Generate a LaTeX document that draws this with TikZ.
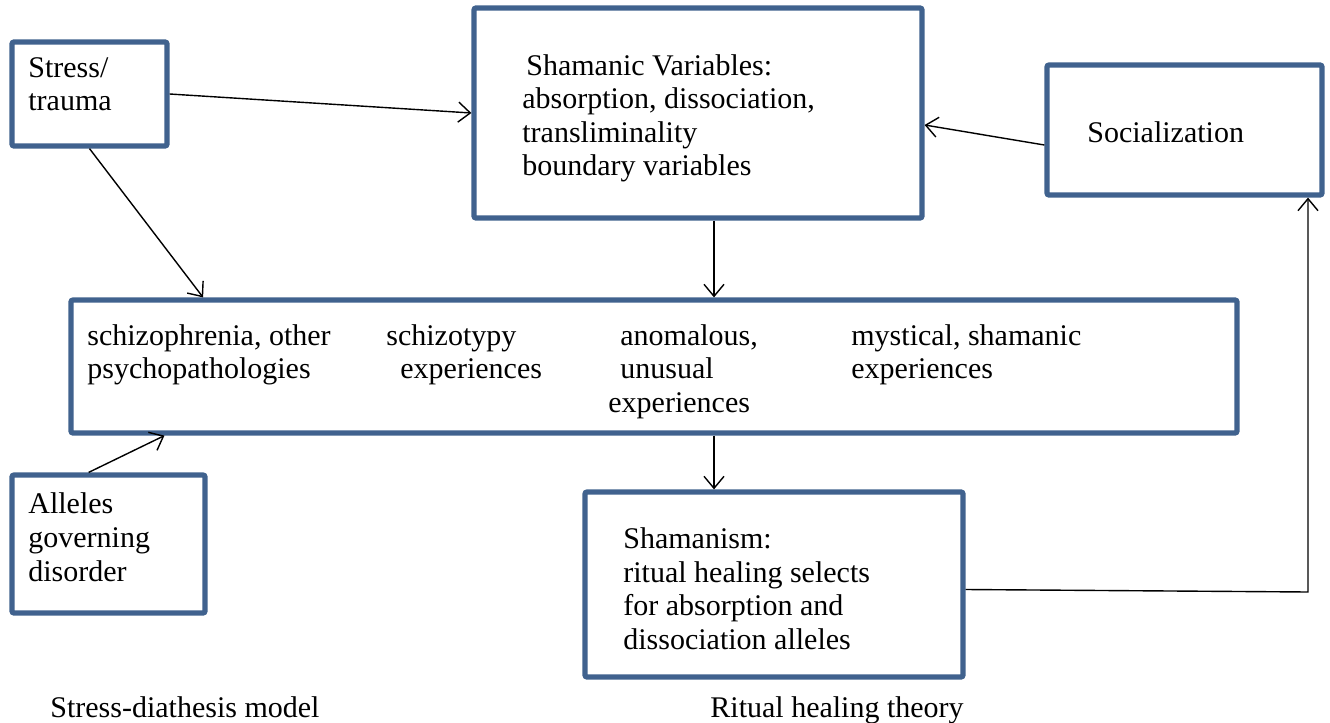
\documentclass[tikz,border=0pt]{standalone}
\usepackage{fontspec}
\setmainfont{Liberation Serif}
\usetikzlibrary{arrows.meta,calc}
\definecolor{boxblue}{RGB}{64,98,142}
\begin{document}
\begin{tikzpicture}[x=0.5pt,y=-0.5pt,
  box/.style={draw=boxblue,line width=2.6pt,rounded corners=1pt,fill=white,inner sep=0pt},
  txt/.style={inner sep=0pt,align=left,anchor=base west,font=\fontsize{15}{16.8}\selectfont},
  arr/.style={line width=0.7pt,-{Straight Barb[length=6pt,width=10pt,line width=0.7pt]}}]
\useasboundingbox (0,0) rectangle (1330,723);
% boxes
\node[box,minimum width=77.5pt,minimum height=52pt] (stress) at (89.5,94) {};
\node[box,minimum width=224pt,minimum height=105pt] (sham) at (698,113) {};
\node[box,minimum width=137.5pt,minimum height=65pt] (soc) at (1184.5,130) {};
\node[box,minimum width=583pt,minimum height=66.5pt] (mid) at (654,366.5) {};
\node[box,minimum width=96.5pt,minimum height=69pt] (alleles) at (108.5,544) {};
\node[box,minimum width=189pt,minimum height=92.5pt] (shism) at (774,584.5) {};
% texts (anchor = baseline of last line)
\node[txt] (tstress) at (28,110.6) {Stress/\\trauma};
\node[txt] (tsham) at (522,175.8) {\hspace{2pt}Shamanic Variables:\\absorption, dissociation,\\transliminality\\boundary variables};
\node[txt] (tsoc) at (1087,142) {Socialization};
\node[txt] (tm1) at (87,378.6) {schizophrenia, other\\psychopathologies};
\node[txt] (tm2) at (386,378.6) {schizotypy\\\hspace{7pt}experiences};
\node[txt] (tm3) at (608,412.2) {\hspace{6pt}anomalous,\\\hspace{6pt}unusual\\experiences};
\node[txt] (tm4) at (851,378.6) {mystical, shamanic\\experiences};
\node[txt] (tall) at (28,581) {Alleles\\governing\\disorder};
\node[txt] (tshism) at (623,649.5) {Shamanism:\\ritual healing selects\\for absorption and\\dissociation alleles};
\node[txt] (lab1) at (50,717) {Stress-diathesis model};
\node[txt] (lab2) at (710,717) {Ritual healing theory};
% helper coordinates
\coordinate (c1) at (714,0);
\coordinate (c2) at (1308,592);
% connectors
\draw[arr] (stress.east) -- (sham.west);
\draw[arr] (stress.south) -- ($(mid.north west)!0.115!(mid.north east)$);
\draw[arr] (sham.south -| c1) -- (mid.north -| c1);
\draw[arr] ($(soc.west)+(0,15)$) -- ($(sham.east)+(0,12)$);
\draw[arr] ($(alleles.north west)!0.4!(alleles.north east)$) -- ($(mid.south west)!0.082!(mid.south east)$);
\draw[arr] (mid.south -| c1) -- (shism.north -| c1);
\draw[arr] ($(shism.east)+(0,5)$) -- (c2) -- (soc.south -| c2);
\end{tikzpicture}
\end{document}
